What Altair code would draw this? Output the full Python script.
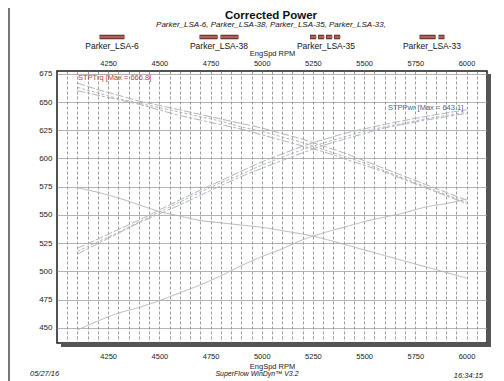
import altair as alt
import pandas as pd

FONT = "Liberation Sans"

# ---------------- data ----------------
rpm = [4100, 4200, 4300, 4400, 4500, 4600, 4700, 4800, 4900, 5000,
       5100, 5200, 5300, 5400, 5500, 5600, 5700, 5800, 5900, 6000]

runs = ["Parker_LSA-6", "Parker_LSA-38", "Parker_LSA-35", "Parker_LSA-33"]

trq_lsa6 = [574, 570, 565, 559, 553, 549, 545, 543, 541, 539,
            536, 533, 529, 524, 519, 514, 509, 504, 499, 494]
pwr_lsa6 = [448, 456, 463, 468, 474, 481, 488, 496, 505, 513,
            520, 528, 534, 539, 544, 548, 552, 557, 560, 564]

trq_lsa38 = [666.8, 661, 656, 651, 647, 643, 639, 635, 631, 627,
             622, 617, 611, 605, 598, 591, 584, 577, 570, 563]
pwr_lsa38 = [520.5, 528.6, 537.1, 545.4, 554.4, 563.2, 571.9, 580.3, 588.7, 596.9,
             604.0, 610.9, 616.6, 622.0, 626.2, 630.2, 633.8, 637.2, 640.3, 643.1]

trq_lsa35 = [663, 658, 653, 649, 645, 641, 637, 633, 628, 624,
             619, 614, 608, 602, 596, 589, 582, 575, 568, 561]
pwr_lsa35 = [517.6, 526.2, 534.6, 543.7, 552.6, 561.4, 570.1, 578.5, 585.9, 594.1,
             601.1, 607.9, 613.6, 619.0, 624.1, 628.0, 631.6, 635.0, 638.1, 640.9]

trq_lsa33 = [660, 656, 652, 648, 643, 638, 634, 630, 626, 621,
             616, 611, 606, 600, 594, 588, 581, 574, 567, 560]
pwr_lsa33 = [515.2, 524.6, 533.8, 542.9, 550.9, 558.8, 567.4, 575.8, 584.0, 591.2,
             598.2, 605.0, 611.5, 616.9, 622.0, 627.0, 630.5, 633.9, 637.0, 639.8]

x_labels = [4250, 4500, 4750, 5000, 5250, 5500, 5750, 6000]
x_grid = [4050, 4100, 4150, 4200, 4250, 4300, 4350, 4400, 4450, 4500, 4550, 4600,
          4650, 4700, 4750, 4800, 4850, 4900, 4950, 5000, 5050, 5100, 5150, 5200,
          5250, 5300, 5350, 5400, 5450, 5500, 5550, 5600, 5650, 5700, 5750, 5800,
          5850, 5900, 5950, 6000, 6050]
y_labels = [450, 475, 500, 525, 550, 575, 600, 625, 650, 675]

# ---------------- build table ----------------
rows = []
for run, trq, pwr in zip(runs,
                         [trq_lsa6, trq_lsa38, trq_lsa35, trq_lsa33],
                         [pwr_lsa6, pwr_lsa38, pwr_lsa35, pwr_lsa33]):
    for r, t, p in zip(rpm, trq, pwr):
        rows.append({"rpm": r, "run": run, "measure": "STPTrq", "value": t})
        rows.append({"rpm": r, "run": run, "measure": "STPPwr", "value": p})
df = pd.DataFrame(rows)

one = pd.DataFrame({"k": [0]})

x_scale = alt.Scale(domain=[4000, 6100], nice=False, zero=False)
y_scale = alt.Scale(domain=[436.5, 677.5], nice=False, zero=False)

dash_scale = alt.Scale(domain=runs, range=[[1, 0], [8, 2], [3, 2], [8, 2, 3, 2]])
color_scale = alt.Scale(domain=["STPTrq", "STPPwr"], range=["#b9b2b2", "#b2b6bf"])

lines = alt.Chart(df).mark_line(strokeWidth=1, interpolate="monotone").encode(
    x=alt.X("rpm:Q", scale=x_scale,
            axis=alt.Axis(orient="bottom", values=x_grid, title="EngSpd RPM",
                          labelExpr="datum.value % 250 == 0 ? datum.value : ''",
                          grid=True, gridColor="#7a7a7a", gridDash=[3, 2], gridOpacity=0.75,
                          ticks=False, domain=False, labelPadding=9,
                          labelFontSize=7.5, titleFontSize=7.5, titleFontWeight="normal",
                          titleY=19, titleBaseline="top", labelColor="#222",
                          titleColor="#222", labelFont=FONT, titleFont=FONT)),
    y=alt.Y("value:Q", scale=y_scale,
            axis=alt.Axis(values=y_labels, title=None, grid=True, gridColor="#a0a0a0",
                          gridOpacity=0.8, ticks=False, domain=False, labelPadding=5,
                          labelFontSize=8, labelColor="#222", labelFont=FONT)),
    detail=["run:N", "measure:N"],
    strokeDash=alt.StrokeDash("run:N", scale=dash_scale, legend=None),
    color=alt.Color("measure:N", scale=color_scale, legend=None),
)

top_axis = alt.Chart(df).mark_point(opacity=0).encode(
    x=alt.X("rpm:Q", scale=x_scale,
            axis=alt.Axis(orient="top", values=x_labels, format="d", title="EngSpd RPM",
                          grid=False, ticks=False, domain=False, labelPadding=4,
                          labelFontSize=7.5, titleFontSize=7.5, titleFontWeight="normal",
                          titleY=-14, titleBaseline="bottom", labelColor="#222",
                          titleColor="#222", labelFont=FONT, titleFont=FONT)),
    y=alt.Y("value:Q", scale=y_scale, axis=None),
)

# shadow of the plot frame
shadow_b = alt.Chart(one).mark_rect(color="#555555").encode(
    x=alt.value(4), x2=alt.value(434), y=alt.value(272), y2=alt.value(276))
shadow_r = alt.Chart(one).mark_rect(color="#555555").encode(
    x=alt.value(430), x2=alt.value(434), y=alt.value(3), y2=alt.value(276))
frame_l = alt.Chart(one).mark_rule(color="#777777", strokeWidth=2).encode(
    x=alt.value(-48), y=alt.value(-63), y2=alt.value(310))


def txt(s, x, y, size, color="#111", align="center", weight="normal", style="normal"):
    return alt.Chart(one).mark_text(
        text=s, font=FONT, fontSize=size, color=color, align=align,
        baseline="middle", fontWeight=weight, fontStyle=style
    ).encode(x=alt.value(x), y=alt.value(y))


texts = [
    txt("Corrected Power", 214, -55, 11.5, weight="bold"),
    txt("Parker_LSA-6, Parker_LSA-38, Parker_LSA-35, Parker_LSA-33,", 214, -46, 8, style="italic"),
    txt("STPTrq [Max = 666.8]", 21, 7, 7.5, color="#c23b3b", align="left"),
    txt("STPPwr [Max = 643.1]", 331, 37, 7.5, color="#4e5f92", align="left"),
    txt("05/27/16", -27, 303, 7.5, align="left", style="italic"),
    txt("SuperFlow WinDyn\u2122 V3.2", 200, 303, 7, style="italic"),
    txt("16:34:15", 426, 305, 7.5, align="right", style="italic"),
]

# custom legend (swatch above label)
legend_cx = [55, 162, 269, 375]
legend_w = [25, 39, 32, 25]
legend_dash = [[1, 0], [18, 3], [6, 2], [16, 3, 6, 3]]
legend_layers = []
for name, cx, w, dsh in zip(runs, legend_cx, legend_w, legend_dash):
    legend_layers.append(
        alt.Chart(one).mark_rule(color="#5a2a28", strokeWidth=4.5, strokeDash=dsh).encode(
            x=alt.value(cx - w / 2), x2=alt.value(cx + w / 2), y=alt.value(-34)))
    legend_layers.append(
        alt.Chart(one).mark_rule(color="#b2605a", strokeWidth=2.5, strokeDash=dsh).encode(
            x=alt.value(cx - w / 2 + 0.5), x2=alt.value(cx + w / 2 - 0.5), y=alt.value(-34)))
    legend_layers.append(txt(name, cx, -25, 8.5))

chart = alt.layer(
    shadow_b, shadow_r, frame_l, lines, top_axis, *texts, *legend_layers
).resolve_axis(x="independent", y="independent").properties(
    width=430, height=272,
    autosize=alt.AutoSizeParams(type="none"),
    padding={"left": 49, "top": 63, "right": 9, "bottom": 38},
    background="white",
).configure_view(stroke="#1a1a1a", strokeWidth=1.5)

chart.save("out.html", embed_options={"renderer": "svg", "actions": False})
